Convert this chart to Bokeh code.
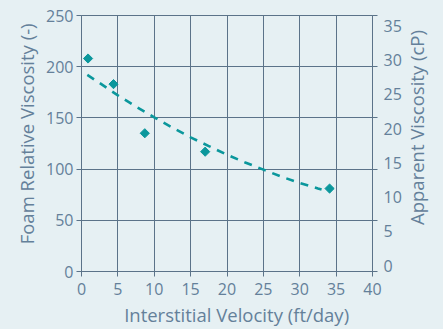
import math
from bokeh.plotting import figure
from bokeh.layouts import row
from bokeh.models import LinearAxis, Range1d, FixedTicker
from bokeh.core.properties import value
from bokeh.embed import file_html
from bokeh.resources import INLINE

# ---- data ----
velocity = [0.9, 4.4, 8.7, 17.0, 34.1]          # ft/day
foam_rel_visc = [208, 183, 135, 117, 81]        # (-)
trend_x = [0.8, 2.5, 5, 7.5, 10, 12.5, 15, 17.5, 20, 22.5, 25, 27.5, 30, 32.5, 33]
trend_y = [192, 184, 172, 161, 150.5, 140.5, 131, 122.5, 114, 106.5, 99.5, 92.5, 86.5, 81, 80]
x_ticks = [0, 5, 10, 15, 20, 25, 30, 35, 40]
left_ticks = [0, 50, 100, 150, 200, 250]
right_ticks = [0, 5, 10, 15, 20, 25, 30, 35]

BG = "#e6f0f3"
LINE = "#5b7389"
TEXT = "#64809a"
TEAL = "#0b979c"
FONT = "Open Sans"
NB = "\u00a0"
TICK_FS = "16px"
LABEL_FS = "18.5px"

p = figure(width=405, height=329, output_backend="svg", toolbar_location=None,
           x_range=Range1d(0, 40), y_range=Range1d(0, 250),
           min_border_left=81, min_border_right=33, min_border_top=15, min_border_bottom=55,
           background_fill_color=BG, border_fill_color=BG,
           outline_line_color=LINE, outline_line_width=1)

p.extra_y_ranges = {"right": Range1d(-0.87, 36.5)}

p.xaxis.ticker = FixedTicker(ticks=x_ticks)
p.yaxis.ticker = FixedTicker(ticks=left_ticks)
p.xgrid.ticker = FixedTicker(ticks=x_ticks)
p.ygrid.ticker = FixedTicker(ticks=left_ticks)
for g in (p.xgrid, p.ygrid):
    g.grid_line_color = LINE
    g.grid_line_width = 1

p.xaxis.axis_label = NB * 4 + "Interstitial Velocity (ft/day)"
p.yaxis.axis_label = NB * 4 + "Foam Relative Viscosity (-)"

for ax in (p.xaxis[0], p.yaxis[0]):
    ax.axis_line_color = LINE
    ax.major_tick_line_color = LINE
    ax.major_tick_out = 5
    ax.major_tick_in = 0
    ax.minor_tick_line_color = None
    ax.major_label_text_font = FONT
    ax.major_label_text_font_size = TICK_FS
    ax.major_label_text_color = TEXT
    ax.axis_label_text_font = FONT
    ax.axis_label_text_font_size = LABEL_FS
    ax.axis_label_text_font_style = "normal"
    ax.axis_label_text_color = TEXT
p.xaxis.major_label_standoff = 6
p.xaxis.axis_label_standoff = 4
p.yaxis.major_label_standoff = 3
p.yaxis.axis_label_standoff = 4

# right side: tick marks at the gridlines
rt = LinearAxis(ticker=FixedTicker(ticks=left_ticks),
                major_label_overrides={v: "" for v in left_ticks},
                axis_line_color=LINE, major_tick_line_color=LINE,
                major_tick_out=5, major_tick_in=0, minor_tick_line_color=None,
                major_label_standoff=0)
p.add_layout(rt, "right")

# right side: apparent viscosity labels
ra = LinearAxis(y_range_name="right", ticker=FixedTicker(ticks=right_ticks),
                axis_line_color=None, major_tick_line_color=None, minor_tick_line_color=None,
                major_tick_out=0, major_tick_in=0, major_label_standoff=6,
                major_label_text_font=FONT, major_label_text_font_size=TICK_FS,
                major_label_text_color=TEXT)
p.add_layout(ra, "right")

p.line(trend_x, trend_y, line_color=TEAL, line_width=2.6, line_dash="8 7")
p.scatter(velocity, foam_rel_visc, marker="square", angle=0.785398, size=6.5,
          fill_color=TEAL, line_color=TEAL)

# narrow strip holding the right axis title (reads bottom-to-top)
p2 = figure(width=38, height=329, output_backend="svg", toolbar_location=None,
            x_range=Range1d(0, 38), y_range=Range1d(0, 329),
            min_border=0, min_border_left=0, min_border_right=0,
            min_border_top=0, min_border_bottom=0,
            background_fill_color=BG, border_fill_color=BG, outline_line_color=None)
p2.axis.visible = False
p2.grid.visible = False
p2.text(x=[11], y=[185], text=["Apparent Viscosity (cP)"], angle=math.pi / 2,
        text_align="center", text_baseline="middle",
        text_font=value(FONT), text_font_size=value(LABEL_FS), text_color=TEXT)

layout = row(p, p2, spacing=0)

html = file_html(layout, INLINE)
html = html.replace("</head>", "<style>html,body{background:%s;}</style></head>" % BG, 1)
open("out.html", "w").write(html)
